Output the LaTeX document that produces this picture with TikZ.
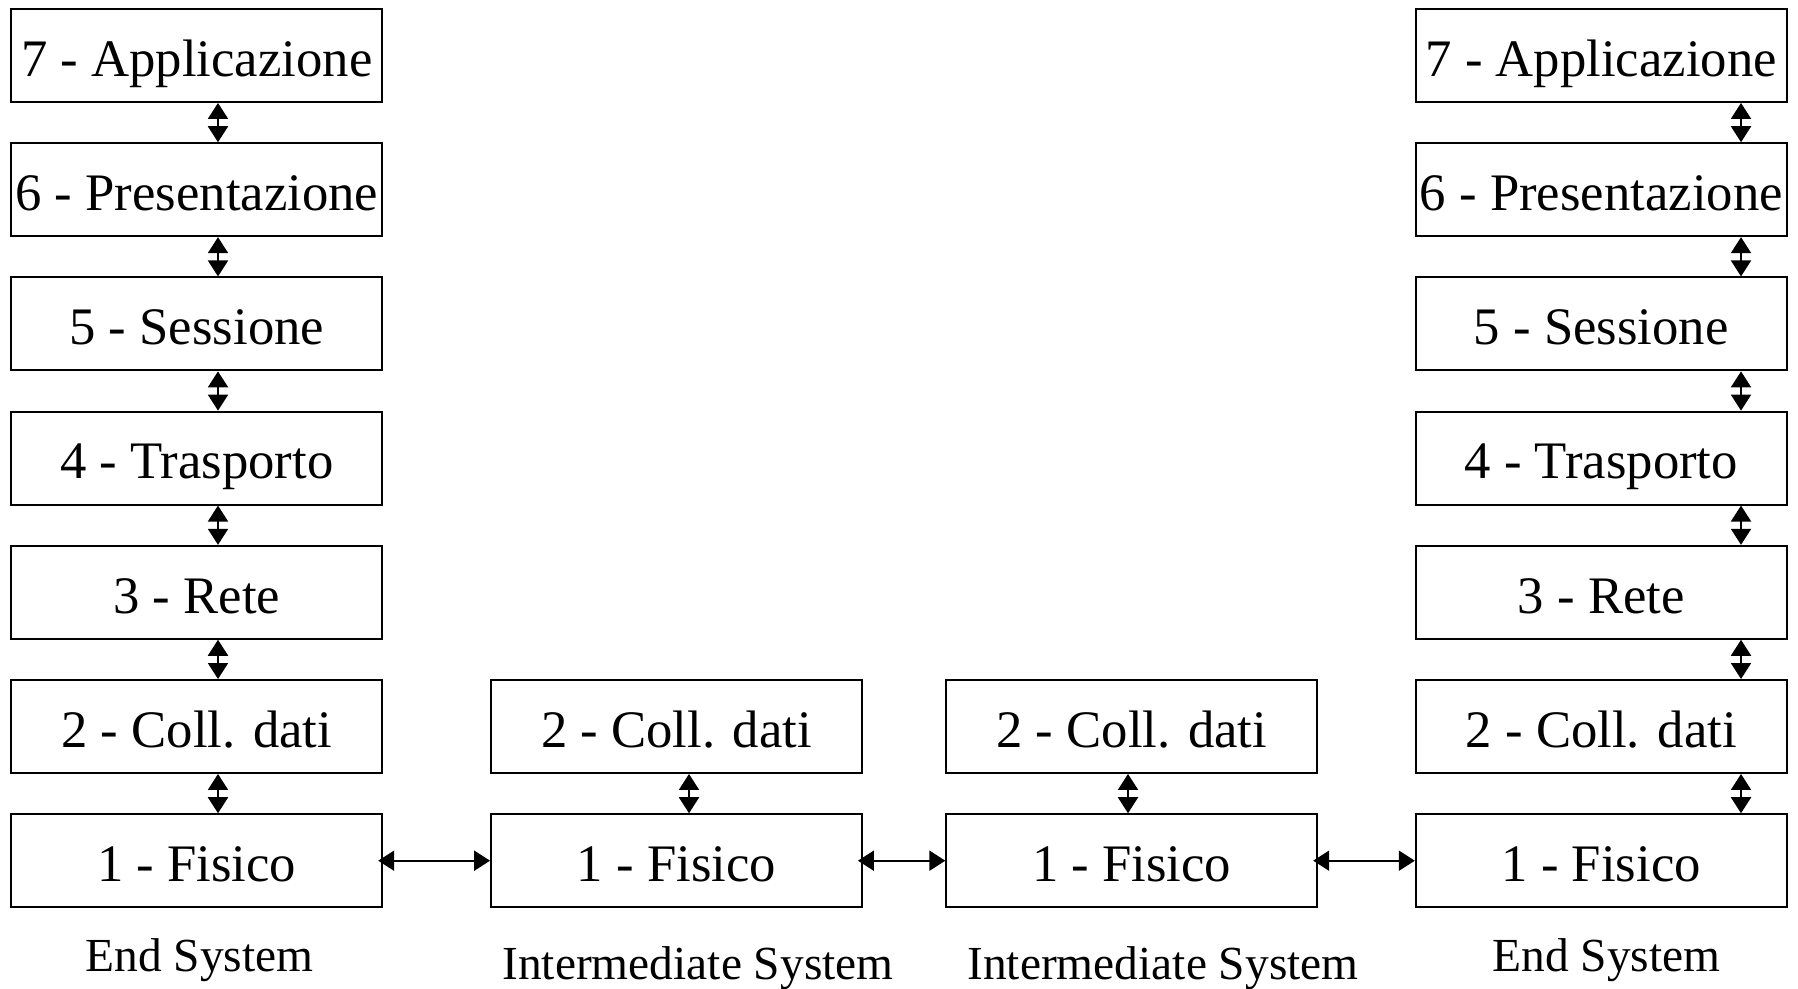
\documentclass[tikz,border=0pt]{standalone}
\usepackage{fontspec}
\setmainfont{Liberation Serif}
\usetikzlibrary{arrows.meta}

\tikzset{
  layer/.style={draw, line width=1.1pt, minimum width=7.42cm, minimum height=1.86cm,
    inner sep=0pt, text height=30.2pt, text depth=6.6pt, font=\fontsize{30}{36}\selectfont},
  sysname/.style={font=\fontsize{27}{32}\selectfont},
}

\begin{document}
\begin{tikzpicture}[x=0.02cm,y=-0.02cm,>={Triangle[length=0.32cm,width=0.4cm]},
  every path/.style={line width=1.1pt}]
\useasboundingbox (0,0) rectangle (1798,989);
% end system (left)
\node[layer] (l7) at (196.75,55.5) {7 - Applicazione};
\node[layer] (l6) at (196.75,189.7) {6 - Presentazione};
\node[layer] (l5) at (196.75,323.9) {5 - Sessione};
\node[layer] (l4) at (196.75,458.1) {4 - Trasporto};
\node[layer] (l3) at (196.75,592.3) {3 - Rete};
\node[layer] (l2) at (196.75,726.5) {2 - Coll. dati};
\node[layer] (l1) at (196.75,860.7) {1 - Fisico};
% intermediate systems
\node[layer] (a2) at (676.5,726.5) {2 - Coll. dati};
\node[layer] (a1) at (676.5,860.7) {1 - Fisico};
\node[layer] (b2) at (1131.75,726.5) {2 - Coll. dati};
\node[layer] (b1) at (1131.75,860.7) {1 - Fisico};
% end system (right)
\node[layer] (r7) at (1601.25,55.5) {7 - Applicazione};
\node[layer] (r6) at (1601.25,189.7) {6 - Presentazione};
\node[layer] (r5) at (1601.25,323.9) {5 - Sessione};
\node[layer] (r4) at (1601.25,458.1) {4 - Trasporto};
\node[layer] (r3) at (1601.25,592.3) {3 - Rete};
\node[layer] (r2) at (1601.25,726.5) {2 - Coll. dati};
\node[layer] (r1) at (1601.25,860.7) {1 - Fisico};

\coordinate (lx) at (218,0);
\coordinate (ax) at (689,0);
\coordinate (bx) at (1128,0);
\coordinate (rx) at (1741,0);

\draw[<->] (l7.south -| lx) -- (l6.north -| lx);
\draw[<->] (l6.south -| lx) -- (l5.north -| lx);
\draw[<->] (l5.south -| lx) -- (l4.north -| lx);
\draw[<->] (l4.south -| lx) -- (l3.north -| lx);
\draw[<->] (l3.south -| lx) -- (l2.north -| lx);
\draw[<->] (l2.south -| lx) -- (l1.north -| lx);
\draw[<->] (a2.south -| ax) -- (a1.north -| ax);
\draw[<->] (b2.south -| bx) -- (b1.north -| bx);
\draw[<->] (r7.south -| rx) -- (r6.north -| rx);
\draw[<->] (r6.south -| rx) -- (r5.north -| rx);
\draw[<->] (r5.south -| rx) -- (r4.north -| rx);
\draw[<->] (r4.south -| rx) -- (r3.north -| rx);
\draw[<->] (r3.south -| rx) -- (r2.north -| rx);
\draw[<->] (r2.south -| rx) -- (r1.north -| rx);

\draw[<->] ([xshift=-0.1cm]l1.east) -- (a1.west);
\draw[<->] ([xshift=-0.1cm]a1.east) -- (b1.west);
\draw[<->] ([xshift=-0.1cm]b1.east) -- (r1.west);

\node[sysname] (ls) at (199.5,960) {End System};
\node[sysname] (as) at (698,968) {Intermediate System};
\node[sysname] (bs) at (1163,968) {Intermediate System};
\node[sysname] (rs) at (1606.5,960) {End System};
\end{tikzpicture}
\end{document}
